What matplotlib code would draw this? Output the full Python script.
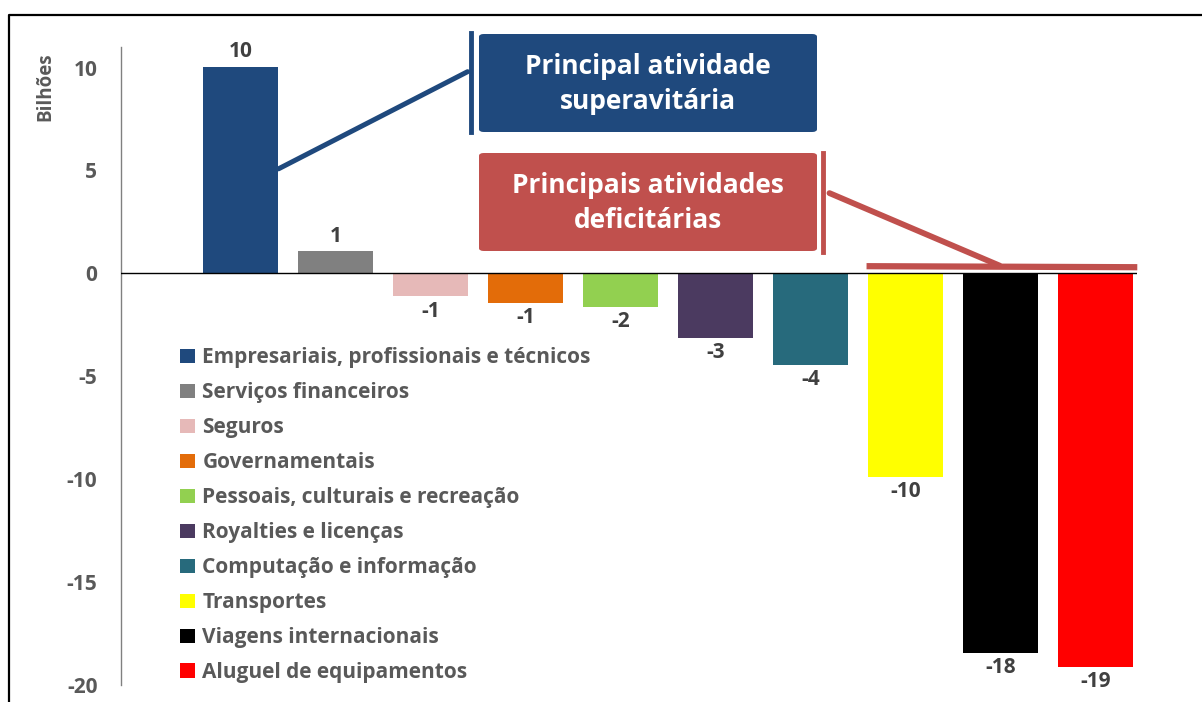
import matplotlib.pyplot as plt
from matplotlib.patches import FancyBboxPatch
from matplotlib.lines import Line2D

categories = [
    "Empresariais, profissionais e técnicos",
    "Serviços financeiros",
    "Seguros",
    "Governamentais",
    "Pessoais, culturais e recreação",
    "Royalties e licenças",
    "Computação e informação",
    "Transportes",
    "Viagens internacionais",
    "Aluguel de equipamentos",
]
values = [10.05, 1.1, -1.12, -1.43, -1.61, -3.12, -4.45, -9.87, -18.46, -19.14]
colors = ["#1F497D", "#808080", "#E6B9B8", "#E36C09", "#92D050",
          "#4B3A60", "#276A7C", "#FFFF00", "#000000", "#FF0000"]
yticks = [10, 5, 0, -5, -10, -15, -20]

W, H = 1202, 702
FONT = "Open Sans"
TICK_GRAY = "#595959"
LABEL_GRAY = "#404040"
BLUE = "#1F497D"
RED = "#C0504D"


def px(x, y):
    # pixel position (from top-left) -> figure fraction
    return x / W, 1 - y / H


fig = plt.figure(figsize=(W / 100, H / 100), dpi=100)
ax = fig.add_axes([121 / W, 1 - 685 / H, (1137 - 121) / W, (685 - 47) / H])

x = list(range(len(values)))
bars = ax.bar(x, values, width=0.79, color=colors, zorder=2)

for xi, v in zip(x, values):
    off = 3 if v > 0 else -3
    ax.annotate(f"{round(v):d}", (xi, v), xytext=(0, off), textcoords="offset points",
                ha="center", va="bottom" if v > 0 else "top",
                fontsize=15, fontweight="bold", color=LABEL_GRAY, family=FONT)

ax.set_xlim(-1.258, 9.437)
ax.set_ylim(-20, 11)
ax.axhline(0, color="black", lw=1.0, zorder=3)
ax.set_xticks([])
ax.set_yticks(yticks)
ax.set_yticklabels([str(t) for t in yticks], fontsize=15, fontweight="bold",
                   color=TICK_GRAY, family=FONT)
ax.tick_params(axis="y", length=0, pad=17)
for s in ["top", "right", "bottom"]:
    ax.spines[s].set_visible(False)
ax.spines["left"].set_color("#808080")
ax.spines["left"].set_linewidth(1.0)

fig.text(*px(45, 87), "Bilhões", rotation=90, ha="center", va="center",
         fontsize=13.5, fontweight="bold", color=TICK_GRAY, family=FONT)

leg = ax.legend(bars, categories, loc="upper left", bbox_to_anchor=px(170, 337),
                bbox_transform=fig.transFigure, frameon=False,
                prop={"family": FONT, "weight": "bold", "size": 15},
                handlelength=0.7, handleheight=0.7, handletextpad=0.35,
                labelspacing=0.67, borderpad=0)
for t in leg.get_texts():
    t.set_color(TICK_GRAY)

# outer frame (left and top edges)
fig.add_artist(Line2D([8.5 / W, 8.5 / W, 1], [0, 1 - 14.5 / H, 1 - 14.5 / H],
                      transform=fig.transFigure, color="black", lw=1.6))

# blue callout
bx0, by0, bx1, by1 = 479, 34, 817, 132
fig.add_artist(FancyBboxPatch(px(bx0, by1), (bx1 - bx0) / W, (by1 - by0) / H,
                              boxstyle="round,pad=0,rounding_size=0.004",
                              transform=fig.transFigure, fc=BLUE, ec="none"))
fig.text(*px((bx0 + bx1) / 2, (by0 + by1) / 2 + 1), "Principal atividade\nsuperavitária",
         ha="center", va="center", color="white", fontsize=19, fontweight="bold",
         family=FONT, linespacing=1.42)
fig.add_artist(Line2D([px(471, 0)[0]] * 2, [px(0, 33)[1], px(0, 132)[1]],
                      transform=fig.transFigure, color=BLUE, lw=3.5))
ax.annotate("", xy=(0.4, 5.08), xytext=(2.39, 9.8),
            arrowprops=dict(arrowstyle="-", color=BLUE, lw=3.6, shrinkA=0, shrinkB=0),
            annotation_clip=False)

# red callout
rx0, ry0, rx1, ry1 = 479, 153, 817, 251
fig.add_artist(FancyBboxPatch(px(rx0, ry1), (rx1 - rx0) / W, (ry1 - ry0) / H,
                              boxstyle="round,pad=0,rounding_size=0.004",
                              transform=fig.transFigure, fc=RED, ec="none"))
fig.text(*px((rx0 + rx1) / 2, (ry0 + ry1) / 2 + 1), "Principais atividades\ndeficitárias",
         ha="center", va="center", color="white", fontsize=19, fontweight="bold",
         family=FONT, linespacing=1.42)
fig.add_artist(Line2D([px(823.5, 0)[0]] * 2, [px(0, 153)[1], px(0, 252)[1]],
                      transform=fig.transFigure, color=RED, lw=3.5))
ax.annotate("", xy=(7.99, 0.38), xytext=(6.2, 3.9),
            arrowprops=dict(arrowstyle="-", color=RED, lw=4.2, shrinkA=0, shrinkB=0),
            annotation_clip=False)
ax.plot([6.59, 9.44], [0.35, 0.3], color=RED, lw=4.5, solid_capstyle="butt",
        clip_on=False, zorder=4)

fig.savefig("out.png", dpi=100)
